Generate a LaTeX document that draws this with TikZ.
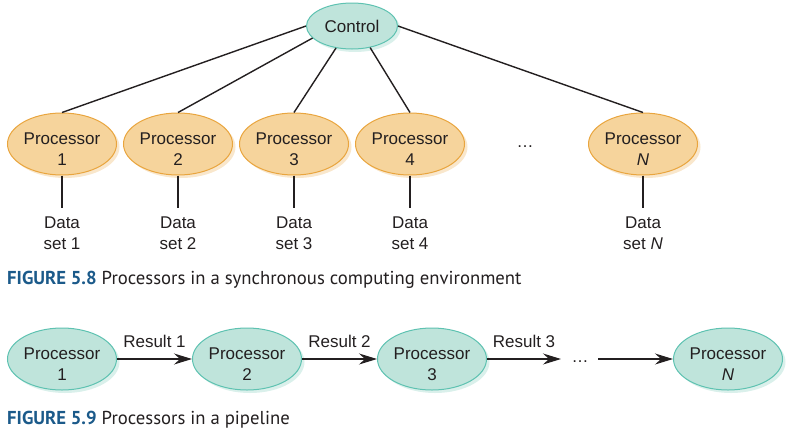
\documentclass[tikz,border=0pt]{standalone}
\usepackage{fontspec}
\setmainfont{Liberation Sans}
\newfontfamily\capfont{PT Sans}
\usetikzlibrary{shapes.geometric,arrows.meta,shadows}
\definecolor{txt}{HTML}{231F20}
\definecolor{orfill}{HTML}{F6D49C}
\definecolor{ordraw}{HTML}{E9A53E}
\definecolor{orshad}{HTML}{F9E7CC}
\definecolor{tlfill}{HTML}{BFE4DB}
\definecolor{tldraw}{HTML}{5EC2B1}
\definecolor{tlshad}{HTML}{DAF0EB}
\definecolor{capblue}{HTML}{1B5A8A}
\newcommand{\proclab}[1]{\raisebox{-11pt}[0pt][0pt]{\begin{tabular}{@{}c@{}}Processor\\#1\end{tabular}}}
\tikzset{
  lbl/.style={font=\fontsize{17}{21}\selectfont, text=txt, align=center},
  ellbase/.style={lbl, ellipse, line width=1pt,
    minimum width=109pt, minimum height=62pt, inner sep=0pt},
  procO/.style={ellbase, draw=ordraw, fill=orfill,
    drop shadow={shadow xshift=3pt, shadow yshift=-3pt, fill=orshad, opacity=1, draw=none}},
  procT/.style={ellbase, draw=tldraw, fill=tlfill,
    drop shadow={shadow xshift=3pt, shadow yshift=-3pt, fill=tlshad, opacity=1, draw=none}},
  ctrlbox/.style={ellbase, draw=tldraw, fill=tlfill, minimum width=91pt, minimum height=46pt,
    drop shadow={shadow xshift=3pt, shadow yshift=-3pt, fill=tlshad, opacity=1, draw=none}},
  databox/.style={lbl, anchor=north, inner xsep=2pt, inner ysep=9pt},
  wire/.style={draw=txt, line width=1.4pt},
  arr/.style={wire, -{Stealth[length=18pt, width=11pt, inset=6pt]}},
  reslbl/.style={lbl, above, inner xsep=1pt, inner ysep=11pt},
  captext/.style={anchor=base west, inner sep=0pt, text=txt, font=\capfont\fontsize{18.7}{22}\selectfont},
  dotsbox/.style={lbl, inner sep=1pt}
}
\begin{document}
\begin{tikzpicture}[x=1pt, y=-1pt]
\useasboundingbox (0,0) rectangle (789,429);
% Figure 5.8
\node[ctrlbox] (c) at (352,26) {Control};
\node[procO] (p1) at (62,144) {\proclab{1}};
\node[procO] (p2) at (178,144) {\proclab{2}};
\node[procO] (p3) at (294,144) {\proclab{3}};
\node[procO] (p4) at (410,144) {\proclab{4}};
\node[dotsbox] (pd) at (525,147) {…};
\node[procO] (pn) at (643,144) {\proclab{\textit{N}}};
\draw[wire] (p1.north) -- (c.west);
\draw[wire] (p2.north) -- (c.197);
\draw[wire] (p3.north) -- (c.234);
\draw[wire] (p4.north) -- (c.310);
\draw[wire] (pn.north) -- (c.east);
\node[databox] (d1) at (62,208) {Data\\set 1};
\node[databox] (d2) at (178,208) {Data\\set 2};
\node[databox] (d3) at (294,208) {Data\\set 3};
\node[databox] (d4) at (410,208) {Data\\set 4};
\node[databox] (dn) at (643,208) {Data\\set \textit{N}};
\draw[wire] (p1.south) -- (d1.north);
\draw[wire] (p2.south) -- (d2.north);
\draw[wire] (p3.south) -- (d3.north);
\draw[wire] (p4.south) -- (d4.north);
\draw[wire] (pn.south) -- (dn.north);
\node[captext] (cap1) at (7,284) {\textbf{\textcolor{capblue}{FIGURE 5.8}} Processors in a synchronous computing environment};
% Figure 5.9
\node[procT] (q1) at (62,359) {\proclab{1}};
\node[procT] (q2) at (247,359) {\proclab{2}};
\node[procT] (q3) at (432,359) {\proclab{3}};
\node[dotsbox] (qd) at (580,362) {…};
\coordinate (a3) at (561,359);
\coordinate (a4) at (598,359);
\node[procT] (qn) at (728,359) {\proclab{\textit{N}}};
\draw[arr] (q1) -- node[reslbl] {Result 1} (q2);
\draw[arr] (q2) -- node[reslbl] {Result 2} (q3);
\draw[arr] (q3.east) -- node[reslbl] {Result 3} (a3);
\draw[arr] (a4) -- (qn.west);
\node[captext] (cap2) at (7,424) {\textbf{\textcolor{capblue}{FIGURE 5.9}} Processors in a pipeline};
\end{tikzpicture}
\end{document}
